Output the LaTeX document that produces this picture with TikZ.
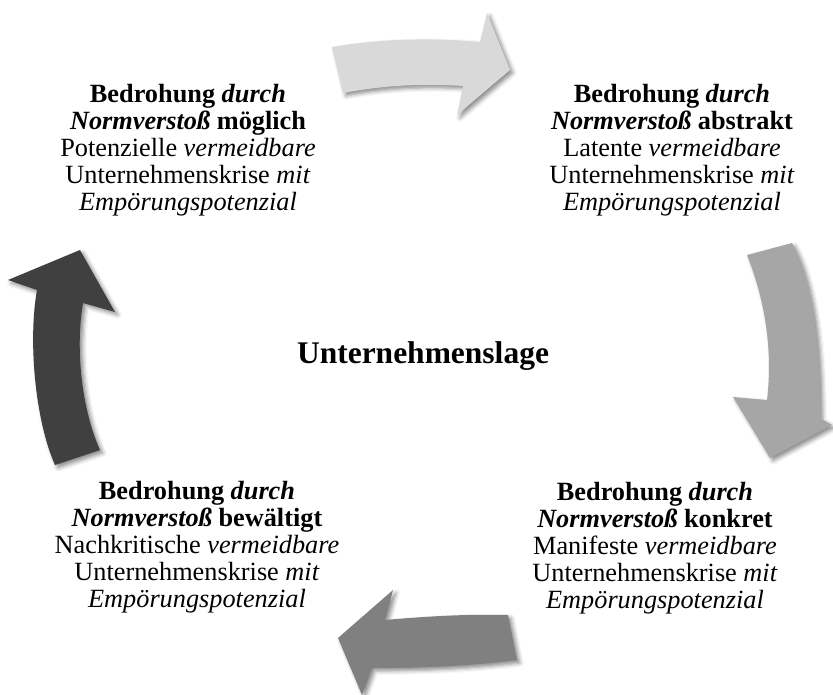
\documentclass[tikz,border=0pt]{standalone}
\usepackage{fontspec}
\setmainfont{Liberation Serif}
\usetikzlibrary{shadows.blur}

\tikzset{
  phase/.style={align=center, font=\fontsize{26.3}{27}\selectfont},
  cyclearrow/.style={draw=none, blur shadow={shadow xshift=3pt, shadow yshift=-3pt,
      shadow blur radius=4pt, shadow opacity=45}}
}

\begin{document}
\begin{tikzpicture}[x=1pt, y=-1pt]
   \useasboundingbox (0, 0) rectangle (833, 695);

   % arrows of the cycle
   \fill[cyclearrow, fill=black!15] (332, 47) .. controls (385, 38) and (435, 38) .. (480, 42)
     -- (487, 13) -- (510, 70) -- (457, 115) -- (463, 86)
     .. controls (420, 83) and (380, 86) .. (343, 93) -- cycle;
   \fill[cyclearrow, fill=black!35] (747, 255) .. controls (765, 300) and (773, 350) .. (767, 400)
     -- (733, 397) -- (770, 458) -- (832, 425) -- (820, 418)
     .. controls (820, 340) and (812, 280) .. (792, 243) -- cycle;
   \fill[cyclearrow, fill=black!50] (508, 615) .. controls (470, 614) and (430, 616) .. (385, 620)
     -- (393, 590) -- (338, 638) -- (362, 695) -- (372, 668)
     .. controls (420, 668) and (470, 666) .. (517, 660) -- cycle;
   \fill[cyclearrow, fill=black!75] (55, 465) .. controls (35, 420) and (28, 340) .. (37, 290)
     -- (8, 280) -- (80, 250) -- (115, 312) -- (83, 303)
     .. controls (75, 350) and (82, 410) .. (100, 450) -- cycle;

   % phases
   \node[phase] (moeglich) at (188, 150)
     {\textbf{Bedrohung \textit{durch}}\\\textbf{\textit{Normverstoß} möglich}\\
      Potenzielle \textit{vermeidbare}\\Unternehmenskrise \textit{mit}\\\textit{Empörungspotenzial}};
   \node[phase] (abstrakt) at (672, 150)
     {\textbf{Bedrohung \textit{durch}}\\\textbf{\textit{Normverstoß} abstrakt}\\
      Latente \textit{vermeidbare}\\Unternehmenskrise \textit{mit}\\\textit{Empörungspotenzial}};
   \node[phase] (konkret) at (655, 548)
     {\textbf{Bedrohung \textit{durch}}\\\textbf{\textit{Normverstoß} konkret}\\
      Manifeste \textit{vermeidbare}\\Unternehmenskrise \textit{mit}\\\textit{Empörungspotenzial}};
   \node[phase] (bewaeltigt) at (197, 547)
     {\textbf{Bedrohung \textit{durch}}\\\textbf{\textit{Normverstoß} bewältigt}\\
      Nachkritische \textit{vermeidbare}\\Unternehmenskrise \textit{mit}\\\textit{Empörungspotenzial}};

   \node[font=\fontsize{31.5}{36}\selectfont\bfseries] (lage) at (423, 356) {Unternehmenslage};
\end{tikzpicture}
\end{document}
